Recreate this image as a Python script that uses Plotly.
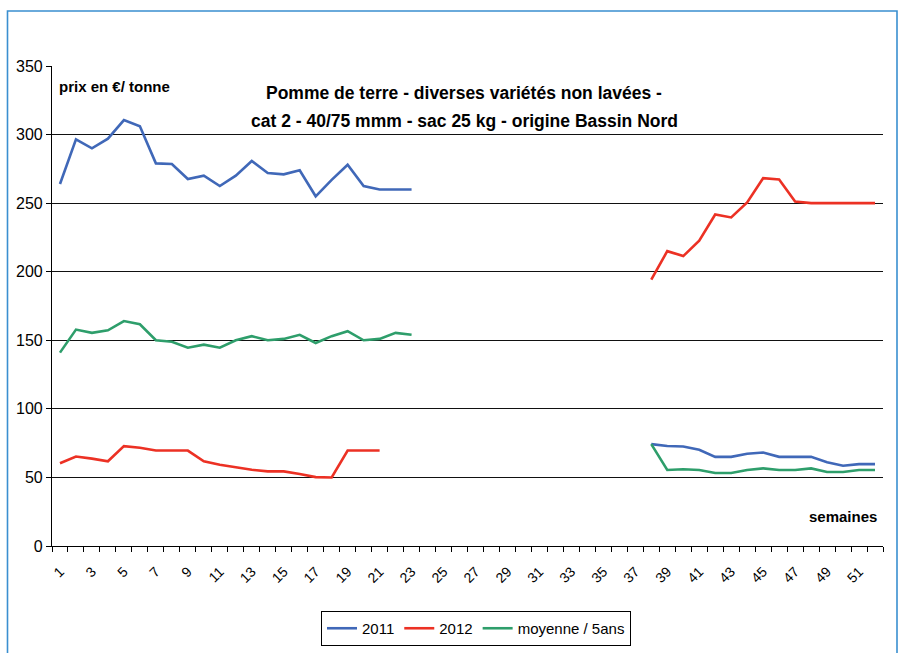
import plotly.graph_objects as go

weeks = [str(w) for w in range(1, 53)]
tick_labels = [w if int(w) % 2 == 1 else "" for w in weeks]

N = None
# 2011 prices (weeks 1-23, then 38-52)
s2011_early = [264, 296.5, 290, 297, 310.6, 306, 279, 278.5, 267.6, 270, 262.5, 270,
               280.7, 272, 271, 274, 255, 267, 278, 262.5, 260, 260, 260]
s2011_late = [74.3, 72.9, 72.6, 70.2, 65, 65, 67.3, 68.2, 65, 65, 65, 61, 58.5, 59.7, 59.7]
# 2012 prices (weeks 1-21, then 38-52)
s2012_early = [60.3, 65.2, 63.7, 61.8, 72.8, 71.6, 69.6, 69.6, 69.6, 61.8, 59.3, 57.4,
               55.6, 54.4, 54.4, 52.5, 50.2, 50, 69.6, 69.6, 69.6]
s2012_late = [194.2, 215, 211.4, 222.6, 241.7, 239.6, 250.5, 268.2, 267.2, 251.2,
              250, 250, 250, 250, 250]
# 5-year average (weeks 1-23, then 38-52)
moy_early = [141, 157.8, 155.4, 157.3, 164, 161.7, 150, 149, 144.6, 146.8, 144.6, 150,
             153, 150, 151, 154, 148, 153, 156.6, 150, 151, 155.4, 154]
moy_late = [74.3, 55.4, 56, 55.4, 53.2, 53.2, 55.4, 56.6, 55.4, 55.4, 56.6, 54, 54, 55.4, 55.4]

title_lines = ["Pomme de terre - diverses variétés non lavées -",
               "cat 2 - 40/75 mmm - sac 25 kg - origine Bassin Nord"]


def full(early, late):
    vals = [N] * 52
    for i, v in enumerate(early):
        vals[i] = v
    for i, v in enumerate(late):
        vals[37 + i] = v
    return vals


series = [
    ("2011", full(s2011_early, s2011_late), "#4068B8"),
    ("2012", full(s2012_early, s2012_late), "#EC3124"),
    ("moyenne / 5ans", full(moy_early, moy_late), "#2E9E6B"),
]

FONT = "Liberation Sans Narrow, Arial Narrow, Liberation Sans, Arial, sans-serif"

fig = go.Figure()
for name, vals, col in series:
    fig.add_trace(go.Scatter(x=weeks, y=vals, name=name, mode="lines",
                             line=dict(color=col, width=2.6), connectgaps=False))

W, H = 898, 653
L, R, T, B = 52, 15, 66, 107
pw, ph = W - L - R, H - T - B


def px(x):
    return (x - L) / pw


def py(y):
    return (H - B - y) / ph


annotations = [
    dict(text="<b>" + line + "</b>", xref="paper", yref="paper", x=px(464), y=py(yy),
         xanchor="center", yanchor="middle", showarrow=False,
         font=dict(size=17.5, family=FONT))
    for line, yy in zip(title_lines, [93, 121])
]
annotations += [
    dict(text="<b>prix en €/ tonne</b>", xref="paper", yref="paper",
         x=px(57), y=py(87), xanchor="left", yanchor="middle", showarrow=False,
         font=dict(size=15, family=FONT)),
    dict(text="<b>semaines</b>", xref="paper", yref="paper",
         x=px(879), y=py(516), xanchor="right", yanchor="middle", showarrow=False,
         font=dict(size=15, family=FONT)),
]

fig.update_layout(
    width=W, height=H,
    margin=dict(l=L, r=R, t=T, b=B, autoexpand=False),
    paper_bgcolor="white", plot_bgcolor="white",
    font=dict(family=FONT, size=16, color="#000"),
    showlegend=True,
    legend=dict(orientation="h", x=px(476), xanchor="center",
                yref="container", y=1 - 611 / H, yanchor="top",
                bordercolor="#000", borderwidth=1, font=dict(size=15, family=FONT),
                itemwidth=30, tracegroupgap=0),
    xaxis=dict(type="category", categoryorder="array", categoryarray=weeks,
               tickvals=weeks, ticktext=tick_labels, tickangle=-45,
               tickson="boundaries", ticks="outside", ticklen=5, tickcolor="#000",
               showline=True, linecolor="#000", linewidth=1.2, showgrid=False,
               tickfont=dict(size=14, family=FONT), range=[-0.5, 51.5],
               automargin=False, ticklabelstandoff=11),
    yaxis=dict(range=[0, 350], dtick=50, tick0=0, ticks="outside", ticklen=5,
               tickcolor="#000", showline=True, linecolor="#000", linewidth=1.2,
               showgrid=True, gridcolor="#111", gridwidth=1.2, zeroline=False,
               tickfont=dict(size=16, family=FONT), automargin=False),
    annotations=annotations,
    shapes=[
        dict(type="rect", xref="paper", yref="paper",
             x0=px(7.5), x1=px(897), y0=py(670), y1=py(11),
             line=dict(color="#3A8FD0", width=1.6), fillcolor="rgba(0,0,0,0)", layer="below"),
    ],
)

fig.write_html("out.html", config={"displayModeBar": False},
               post_script="document.body.style.margin='0';document.body.style.overflow='hidden';")
